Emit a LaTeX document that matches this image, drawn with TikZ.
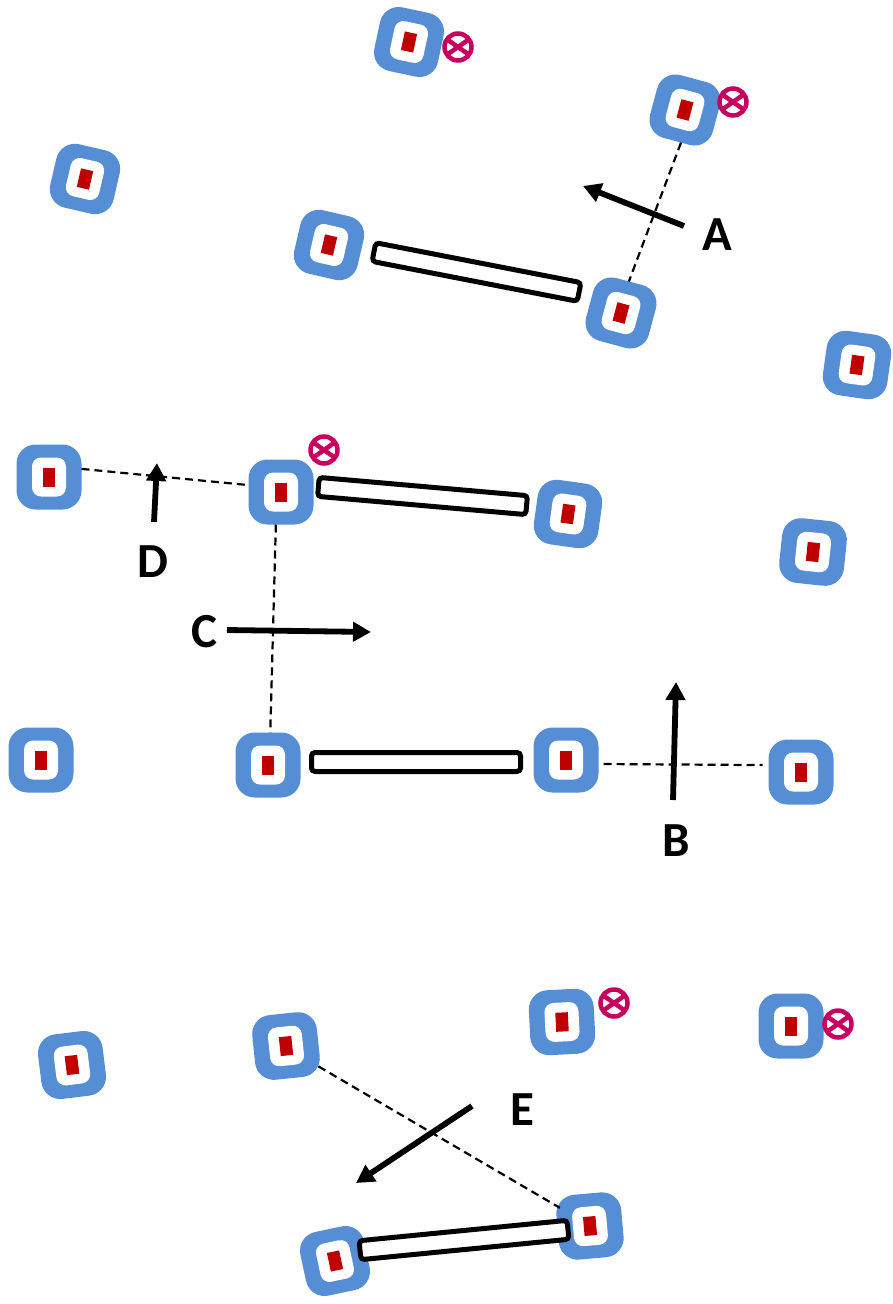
\documentclass[tikz,border=0pt]{standalone}
\usepackage{fontspec}
\setmainfont{Carlito}
\usetikzlibrary{arrows.meta}
\definecolor{ringblue}{HTML}{558ED5}
\definecolor{corered}{HTML}{C00000}
\definecolor{markpink}{HTML}{C7005F}
\tikzset{
  outerbox/.style={fill=ringblue,rounded corners=19pt,minimum width=65pt,minimum height=65pt,inner sep=0pt,outer sep=0pt},
  innerbox/.style={fill=white,rounded corners=9pt,minimum width=34pt,minimum height=39pt,inner sep=0pt,outer sep=0pt},
  corebox/.style={fill=corered,minimum width=12.5pt,minimum height=19pt,inner sep=0pt,outer sep=0pt},
  barbox/.style={draw=black,fill=white,line width=5pt,rounded corners=3.5pt,minimum width=209pt,minimum height=19pt,inner sep=0pt,outer sep=0pt},
  linkline/.style={draw=black,line width=2.2pt,dash pattern=on 8pt off 5pt},
  bigarrow/.style={draw=black,line width=5.8pt,-{Triangle[length=18pt,width=19pt]}},
  marknode/.style={circle,draw=markpink,line width=4.5pt,minimum size=27pt,inner sep=0pt,outer sep=0pt},
  markcross/.style={draw=markpink,line width=4.5pt},
  lettertext/.style={font=\fontsize{49}{49}\selectfont\bfseries,inner sep=0pt}
}
\newcommand{\devbox}[4]{%
  \node[outerbox,rotate=#4] (#1) at (#2,#3) {};
  \node[innerbox,rotate=#4] (#1i) at (#2,#3) {};
  \node[corebox,rotate=#4] (#1c) at (#2,#3) {};
}
\newcommand{\markx}[3]{%
  \node[marknode] (#1) at (#2,#3) {};
  \draw[markcross] (#1.35) -- (#1.215);
  \draw[markcross] (#1.145) -- (#1.325);
}
\begin{document}
\begin{tikzpicture}[x=1pt,y=-1pt]
\useasboundingbox (0,0) rectangle (893,1304);
\devbox{t1}{409}{42}{-12}
\devbox{t2}{685}{110}{-15}
\devbox{t3}{85}{179}{-13}
\devbox{t4}{329}{245}{-13}
\devbox{t5}{621}{313}{-15}
\devbox{t6}{857}{365}{-8}
\devbox{m1}{49}{477}{0}
\devbox{m2}{281}{492}{0}
\devbox{m3}{568}{514}{-8}
\devbox{m4}{813}{552}{-6}
\devbox{l1}{41}{760}{0}
\devbox{l2}{268}{765}{0}
\devbox{l3}{566}{760}{0}
\devbox{l4}{801}{772}{0}
\devbox{b1}{72}{1065}{7}
\devbox{b2}{286}{1046}{6}
\devbox{b3}{562}{1022}{3}
\devbox{b4}{791}{1026}{0}
\devbox{b5}{335}{1261}{12}
\devbox{b6}{590}{1226}{5}
\markx{x1}{458}{47}
\markx{x2}{733}{102}
\markx{x3}{324}{450}
\markx{x4}{614}{1003}
\markx{x5}{838}{1024}
\node[barbox,rotate=-11] (bar1) at (476.5,272) {};
\node[barbox,rotate=-5] (bar2) at (422.5,496) {};
\node[barbox,rotate=0] (bar3) at (416,762) {};
\node[barbox,rotate=5.6] (bar4) at (464,1240) {};
\draw[linkline] (t2.-82) -- (t5.91);
\draw[linkline] (m1.14) -- (m2.168);
\draw[linkline] (m2.261) -- (l2.86);
\draw[linkline,shorten <=5pt,shorten >=6pt] (l3.-7) -- (l4.168);
\draw[linkline,shorten <=-3pt,shorten >=-5pt] (b2.-38) -- (b6.144);
\coordinate (aS) at (684,226); \coordinate (aE) at (583,186);
\coordinate (bS) at (673,800); \coordinate (bE) at (676,682);
\coordinate (cS) at (227,630); \coordinate (cE) at (371,632);
\coordinate (dS) at (154,522); \coordinate (dE) at (157,463);
\coordinate (eS) at (472,1106); \coordinate (eE) at (356,1183);
\draw[bigarrow] (aS) -- (aE);
\draw[bigarrow] (bS) -- (bE);
\draw[bigarrow] (cS) -- (cE);
\draw[bigarrow] (dS) -- (dE);
\draw[bigarrow] (eS) -- (eE);
\node[lettertext] (la) at (717,235) {A};
\node[lettertext] (lb) at (676,841) {B};
\node[lettertext] (lc) at (204,632) {C};
\node[lettertext] (ld) at (153,562) {D};
\node[lettertext] (le) at (522,1110) {E};
\end{tikzpicture}
\end{document}
